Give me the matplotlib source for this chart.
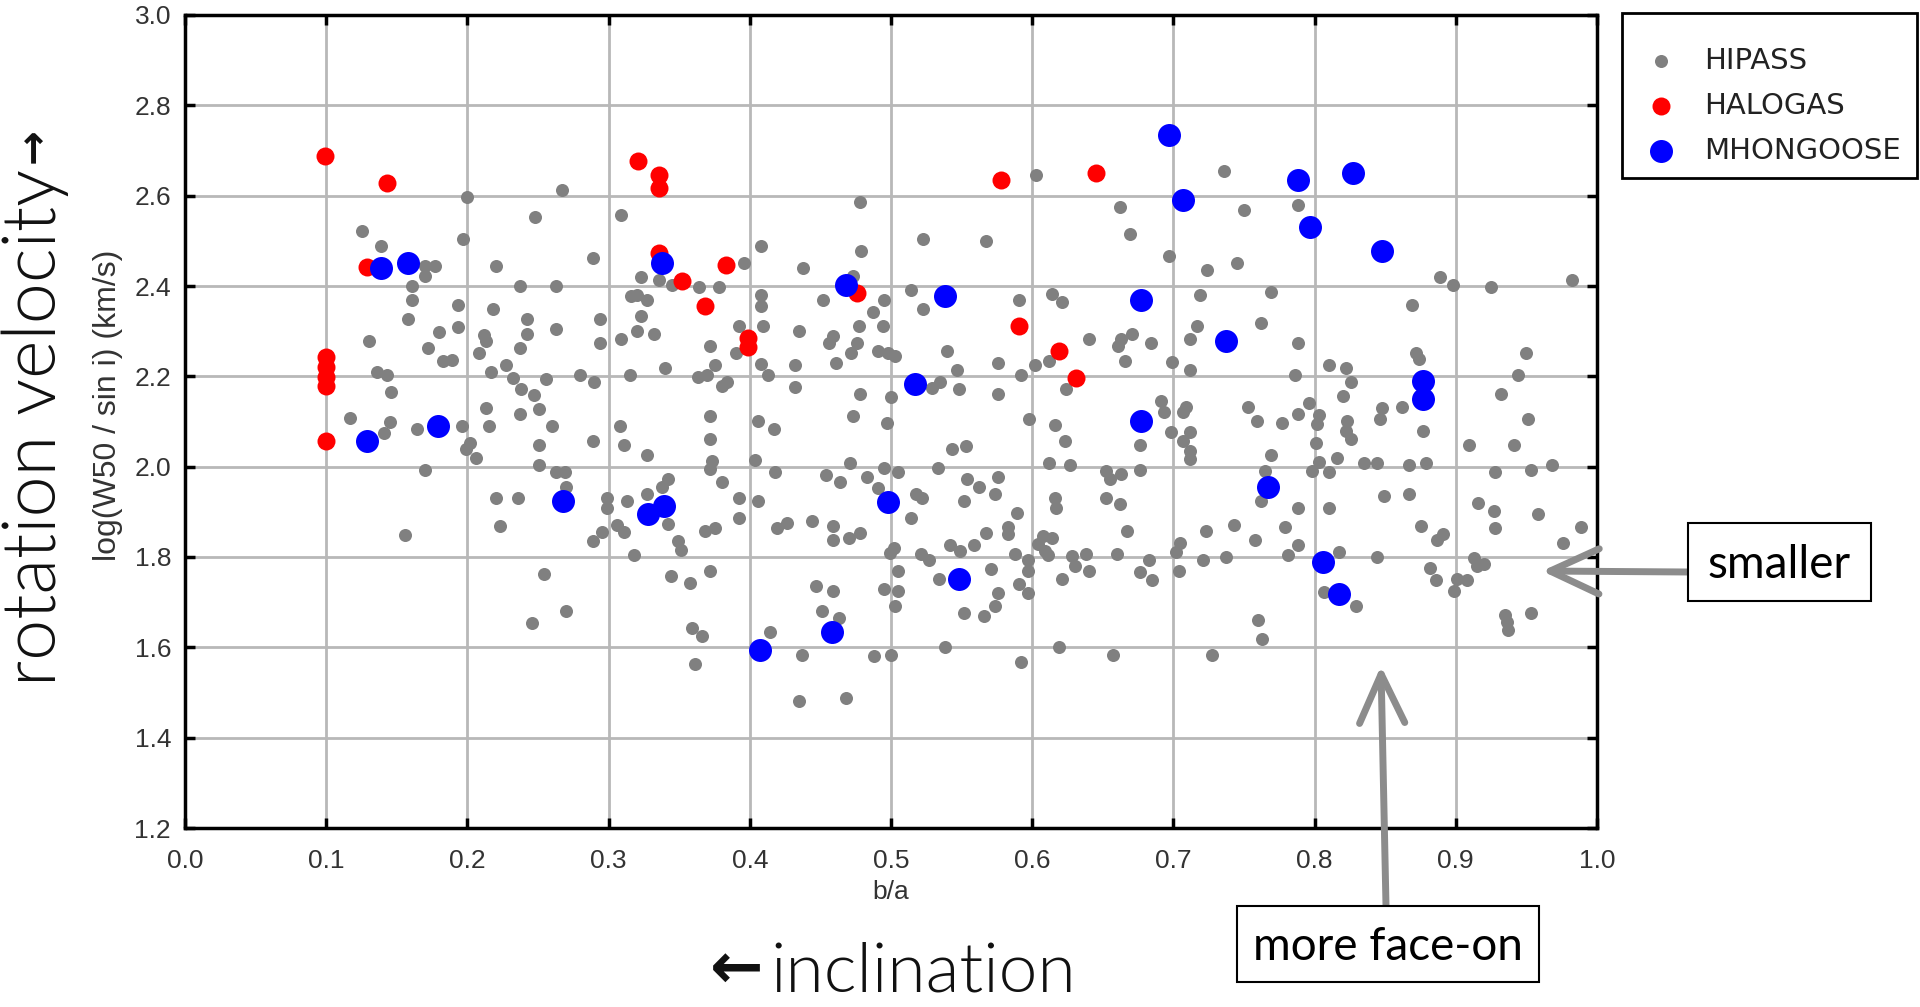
import matplotlib
matplotlib.use("Agg")
import matplotlib.pyplot as plt
import numpy as np

# ---- data ----
hipass_ba = [
    0.125, 0.139, 0.170, 0.177, 0.170, 0.161, 0.161, 0.158, 0.130, 0.136, 0.143, 0.146, 0.172, 0.180, 0.183,
    0.189, 0.193, 0.193, 0.200, 0.197, 0.220, 0.218, 0.212, 0.213, 0.208, 0.217, 0.227, 0.232, 0.238, 0.247,
    0.237, 0.242, 0.242, 0.237, 0.248, 0.267, 0.263, 0.263, 0.256, 0.280, 0.290, 0.294, 0.294, 0.289, 0.309,
    0.309, 0.315, 0.316, 0.320, 0.327, 0.323, 0.323, 0.320, 0.332, 0.340, 0.336, 0.345,
    0.117, 0.145, 0.141, 0.164, 0.196, 0.213, 0.215, 0.202, 0.199, 0.206, 0.170, 0.156, 0.237, 0.251, 0.260,
    0.251, 0.251, 0.263, 0.269, 0.270, 0.220, 0.236, 0.223, 0.254, 0.270, 0.246, 0.289, 0.308, 0.311, 0.327,
    0.299, 0.299, 0.313, 0.327, 0.338, 0.342, 0.306, 0.311, 0.289, 0.295, 0.318, 0.342, 0.344,
    0.364, 0.378, 0.396, 0.408, 0.408, 0.408, 0.409, 0.392, 0.372, 0.390, 0.375, 0.363, 0.370, 0.380, 0.384,
    0.408, 0.413, 0.432, 0.432, 0.435, 0.438, 0.452, 0.456, 0.459, 0.461, 0.473, 0.478, 0.479, 0.477, 0.476,
    0.472, 0.478, 0.487, 0.495, 0.494, 0.491, 0.498, 0.503, 0.500, 0.514, 0.523, 0.523, 0.529, 0.535, 0.540,
    0.547, 0.548, 0.567, 0.576, 0.576, 0.591, 0.592, 0.603, 0.602, 0.612, 0.614, 0.621, 0.624, 0.640, 0.662,
    0.669, 0.663, 0.661, 0.666,
    0.372, 0.372, 0.373, 0.372, 0.380, 0.392, 0.392, 0.368, 0.375, 0.349, 0.351, 0.358, 0.372, 0.359, 0.366,
    0.361, 0.406, 0.417, 0.404, 0.418, 0.406, 0.419, 0.426, 0.444, 0.454, 0.464, 0.471, 0.473, 0.459, 0.459,
    0.470, 0.478, 0.483, 0.491, 0.495, 0.505, 0.497, 0.502, 0.499, 0.505, 0.495, 0.505, 0.503, 0.447, 0.459,
    0.451, 0.463, 0.414, 0.437, 0.435, 0.468, 0.488, 0.500, 0.514, 0.518, 0.522, 0.533, 0.543, 0.553, 0.552,
    0.554, 0.562, 0.576, 0.574, 0.589, 0.583, 0.583, 0.567, 0.559, 0.542, 0.549, 0.521, 0.527, 0.534, 0.571,
    0.576, 0.574, 0.566, 0.552, 0.538, 0.588, 0.597, 0.597, 0.591, 0.597, 0.592, 0.598, 0.616, 0.623, 0.612,
    0.627, 0.616, 0.617, 0.608, 0.614, 0.604, 0.609, 0.611, 0.621, 0.628, 0.630, 0.638, 0.640, 0.619, 0.652,
    0.655, 0.663, 0.652, 0.662, 0.667, 0.660, 0.657, 0.676, 0.676, 0.676,
    0.736, 0.750, 0.788, 0.697, 0.724, 0.745, 0.719, 0.769, 0.671, 0.684, 0.717, 0.712, 0.699, 0.712, 0.762,
    0.788, 0.786, 0.810, 0.822, 0.826, 0.820, 0.889, 0.898, 0.925, 0.982, 0.869, 0.872, 0.874, 0.950, 0.944,
    0.932, 0.691, 0.796,
    0.693, 0.709, 0.707, 0.698, 0.712, 0.707, 0.712, 0.712, 0.753, 0.759, 0.777, 0.788, 0.803, 0.802, 0.801,
    0.803, 0.798, 0.810, 0.816, 0.823, 0.822, 0.826, 0.848, 0.846, 0.862, 0.877, 0.835, 0.844, 0.867, 0.879,
    0.769, 0.765, 0.762, 0.788, 0.810, 0.849, 0.867, 0.875, 0.887, 0.891, 0.909, 0.941, 0.951, 0.928, 0.953,
    0.968, 0.916, 0.927, 0.928, 0.958, 0.989, 0.976, 0.723, 0.743, 0.758, 0.779, 0.788, 0.781, 0.705, 0.702,
    0.704, 0.683, 0.685, 0.721, 0.737, 0.817, 0.844, 0.807, 0.829, 0.882, 0.886, 0.901, 0.908, 0.899, 0.913,
    0.920, 0.915, 0.935, 0.936, 0.937, 0.953, 0.760, 0.763, 0.727,
]
hipass_logw = [
    2.521, 2.488, 2.444, 2.445, 2.423, 2.401, 2.370, 2.326, 2.278, 2.210, 2.202, 2.165, 2.262, 2.299, 2.234,
    2.236, 2.359, 2.310, 2.596, 2.504, 2.445, 2.348, 2.291, 2.278, 2.252, 2.210, 2.224, 2.197, 2.171, 2.158,
    2.263, 2.326, 2.294, 2.401, 2.552, 2.612, 2.401, 2.305, 2.193, 2.204, 2.187, 2.326, 2.274, 2.461, 2.558,
    2.283, 2.204, 2.378, 2.381, 2.370, 2.420, 2.333, 2.300, 2.294, 2.219, 2.414, 2.403,
    2.107, 2.098, 2.074, 2.084, 2.090, 2.129, 2.090, 2.053, 2.040, 2.020, 1.992, 1.849, 2.117, 2.127, 2.090,
    2.048, 2.004, 1.989, 1.989, 1.956, 1.930, 1.930, 1.869, 1.762, 1.681, 1.654, 2.057, 2.090, 2.048, 2.025,
    1.930, 1.908, 1.923, 1.939, 1.956, 1.972, 1.871, 1.855, 1.836, 1.855, 1.804, 1.874, 1.757,
    2.398, 2.398, 2.450, 2.488, 2.381, 2.355, 2.311, 2.311, 2.267, 2.252, 2.224, 2.199, 2.202, 2.179, 2.188,
    2.227, 2.204, 2.224, 2.176, 2.300, 2.440, 2.370, 2.274, 2.289, 2.230, 2.422, 2.585, 2.478, 2.311, 2.274,
    2.252, 2.160, 2.343, 2.370, 2.311, 2.256, 2.252, 2.246, 2.155, 2.392, 2.504, 2.348, 2.175, 2.187, 2.256,
    2.214, 2.171, 2.499, 2.230, 2.160, 2.370, 2.204, 2.645, 2.224, 2.234, 2.383, 2.365, 2.171, 2.283, 2.574,
    2.515, 2.282, 2.267, 2.235,
    2.112, 2.062, 2.013, 1.994, 1.967, 1.930, 1.886, 1.858, 1.864, 1.836, 1.816, 1.742, 1.768, 1.643, 1.626,
    1.562, 2.101, 2.084, 2.015, 1.989, 1.923, 1.864, 1.875, 1.880, 1.982, 1.966, 2.009, 2.112, 1.869, 1.838,
    1.843, 1.853, 1.978, 1.952, 1.998, 1.989, 2.096, 1.821, 1.809, 1.768, 1.729, 1.724, 1.691, 1.735, 1.724,
    1.681, 1.665, 1.634, 1.584, 1.482, 1.488, 1.580, 1.584, 1.886, 1.939, 1.930, 1.998, 2.040, 2.046, 1.923,
    1.972, 1.956, 1.978, 1.939, 1.897, 1.866, 1.851, 1.853, 1.827, 1.827, 1.814, 1.807, 1.794, 1.751, 1.773,
    1.720, 1.691, 1.670, 1.676, 1.600, 1.807, 1.793, 1.768, 1.740, 1.720, 1.567, 2.106, 2.092, 2.057, 2.009,
    2.004, 1.930, 1.908, 1.846, 1.843, 1.829, 1.814, 1.804, 1.751, 1.803, 1.781, 1.807, 1.768, 1.600, 1.991,
    1.972, 1.983, 1.930, 1.917, 1.858, 1.807, 1.584, 2.048, 1.992, 1.766,
    2.654, 2.569, 2.579, 2.467, 2.435, 2.450, 2.381, 2.386, 2.294, 2.274, 2.311, 2.283, 2.232, 2.214, 2.317,
    2.274, 2.202, 2.225, 2.219, 2.187, 2.157, 2.420, 2.402, 2.397, 2.414, 2.359, 2.252, 2.238, 2.252, 2.202,
    2.160, 2.145, 2.140,
    2.121, 2.133, 2.121, 2.076, 2.076, 2.057, 2.034, 2.018, 2.133, 2.100, 2.096, 2.117, 2.114, 2.094, 2.053,
    2.011, 1.991, 1.989, 2.020, 2.101, 2.079, 2.062, 2.129, 2.106, 2.131, 2.079, 2.009, 2.009, 2.003, 2.009,
    2.026, 1.991, 1.924, 1.908, 1.908, 1.934, 1.939, 1.869, 1.838, 1.851, 2.048, 2.048, 2.106, 1.989, 1.993,
    2.004, 1.919, 1.902, 1.864, 1.896, 1.866, 1.832, 1.858, 1.871, 1.838, 1.866, 1.827, 1.805, 1.832, 1.810,
    1.770, 1.794, 1.748, 1.794, 1.801, 1.810, 1.801, 1.723, 1.692, 1.775, 1.748, 1.751, 1.748, 1.724, 1.797,
    1.785, 1.781, 1.672, 1.656, 1.639, 1.676, 1.661, 1.619, 1.584,
]

halogas_ba = [0.099, 0.143, 0.129, 0.100, 0.100, 0.100, 0.100, 0.100, 0.321, 0.336, 0.336, 0.336,
              0.352, 0.383, 0.368, 0.399, 0.399, 0.476, 0.578, 0.645, 0.591, 0.619, 0.631]
halogas_logw = [2.687, 2.628, 2.441, 2.242, 2.220, 2.198, 2.178, 2.057, 2.676, 2.646, 2.617, 2.474,
                2.412, 2.446, 2.355, 2.285, 2.265, 2.385, 2.634, 2.650, 2.311, 2.257, 2.197]

mhongoose_ba = [0.139, 0.158, 0.338, 0.129, 0.179, 0.268, 0.328, 0.339, 0.468, 0.538, 0.517, 0.677,
                0.677, 0.407, 0.458, 0.498, 0.548, 0.697, 0.707, 0.788, 0.827, 0.797, 0.848, 0.737,
                0.877, 0.877, 0.767, 0.806, 0.817]
mhongoose_logw = [2.440, 2.451, 2.451, 2.057, 2.090, 1.923, 1.895, 1.912, 2.403, 2.378, 2.182, 2.370,
                  2.101, 1.595, 1.634, 1.921, 1.751, 2.735, 2.591, 2.634, 2.650, 2.530, 2.477, 2.278,
                  2.190, 2.149, 1.955, 1.788, 1.718]

x_ticks = np.round(np.arange(0.0, 1.01, 0.1), 1)
y_ticks = np.round(np.arange(1.2, 3.01, 0.2), 1)

# ---- figure ----
W, H = 1920, 1007
fig = plt.figure(figsize=(W / 100, H / 100), dpi=100)
fig.patch.set_facecolor("white")
ax = fig.add_axes([185 / W, 1 - 828 / H, 1412 / W, 813 / H])

ax.scatter(hipass_ba, hipass_logw, s=88, color="#808080", linewidths=0, label="HIPASS", zorder=3)
ax.scatter(halogas_ba, halogas_logw, s=168, color="#ff0000", linewidths=0, label="HALOGAS", zorder=4)
ax.scatter(mhongoose_ba, mhongoose_logw, s=274, color="#0000ff", linewidths=0, label="MHONGOOSE", zorder=5)

ax.set_xlim(0.0, 1.0)
ax.set_ylim(1.2, 3.0)
ax.set_xticks(x_ticks)
ax.set_yticks(y_ticks)
ax.set_xticklabels(["%.1f" % v for v in x_ticks])
ax.set_yticklabels(["%.1f" % v for v in y_ticks])
ax.grid(True, color="#b8b8b8", lw=2)
ax.set_axisbelow(True)
for sp in ax.spines.values():
    sp.set_linewidth(2.5)
    sp.set_color("black")
ax.tick_params(direction="in", length=7, width=2.5, top=True, right=True,
               labelsize=19, pad=10, labelcolor="#333333")
ax.tick_params(axis="x", pad=15)
for lab in ax.get_xticklabels() + ax.get_yticklabels():
    lab.set_family("Liberation Sans")

ax.set_xlabel("b/a", fontsize=19, family="Liberation Sans", color="#333333", labelpad=5)
ax.set_ylabel("log(W50 / sin i) (km/s)", fontsize=23, family="Liberation Sans", color="#333333")
ax.yaxis.set_label_coords(-0.0440, 0.52)

# legend: frame drawn by hand so its size matches, entries placed inside it
leg = ax.legend(loc="upper left", bbox_to_anchor=(1617 / W, 1 - 32 / H), bbox_transform=fig.transFigure,
                borderaxespad=0, frameon=False, scatterpoints=1,
                prop={"family": "DejaVu Sans", "size": 21}, handletextpad=0.5,
                borderpad=0.5, labelspacing=0.59)
for t in leg.get_texts():
    t.set_color("#222222")
fig.patches.append(plt.Rectangle((1622 / W, 1 - 178 / H), (1917 - 1622) / W, (178 - 13) / H,
                                 transform=fig.transFigure, fill=False, ec="black", lw=2))

# big slide labels (light text, bold arrow glyphs)
renderer = fig.canvas.get_renderer()
big = ["Lato", "DejaVu Sans"]
t1 = fig.text(56 / W, 1 - 686 / H, "rotation velocity", rotation=90, rotation_mode="anchor",
              ha="left", va="baseline", fontsize=53, family=big, weight=300, color="#111111")
bb = t1.get_window_extent(renderer)
fig.text(46 / W, (bb.y1 + 6) / H, "\u2192", rotation=90, rotation_mode="anchor", ha="left",
         va="baseline", fontsize=30, family="DejaVu Sans", weight="bold", color="#111111")

fig.text(770 / W, 1 - 991 / H, "inclination", ha="left", va="baseline", fontsize=50,
         family=big, weight=300, color="#111111")
fig.text(763 / W, 1 - 988 / H, "\u2190", ha="right", va="baseline", fontsize=46,
         family="DejaVu Sans", weight="bold", color="#111111")

# boxed notes with grey arrows
arrow_kw = dict(arrowstyle="->,head_length=0.8,head_width=0.37", color="#8c8c8c", lw=5,
                shrinkA=0, shrinkB=0, mutation_scale=44)
ax.annotate("", xy=(0.961, 1.769), xycoords="data", xytext=(1688, H - 572),
            textcoords="figure pixels", arrowprops=arrow_kw, annotation_clip=False, zorder=6)
ax.annotate("", xy=(0.847, 1.559), xycoords="data", xytext=(1386, H - 906),
            textcoords="figure pixels", arrowprops=arrow_kw, annotation_clip=False, zorder=6)

note = ["Lato", "DejaVu Sans"]
for (x0, y0, x1, y1, txt) in [(1688, 523, 1871, 601, "smaller"), (1237, 906, 1539, 982, "more face-on")]:
    fig.patches.append(plt.Rectangle((x0 / W, 1 - y1 / H), (x1 - x0) / W, (y1 - y0) / H,
                                     transform=fig.transFigure, fc="white", ec="black", lw=1.5))
    fig.text((x0 + x1) / 2 / W, 1 - ((y0 + y1) / 2 + 3) / H, txt, fontsize=33, ha="center", va="center",
             family=note, color="black")

fig.savefig("out.png", dpi=100)
